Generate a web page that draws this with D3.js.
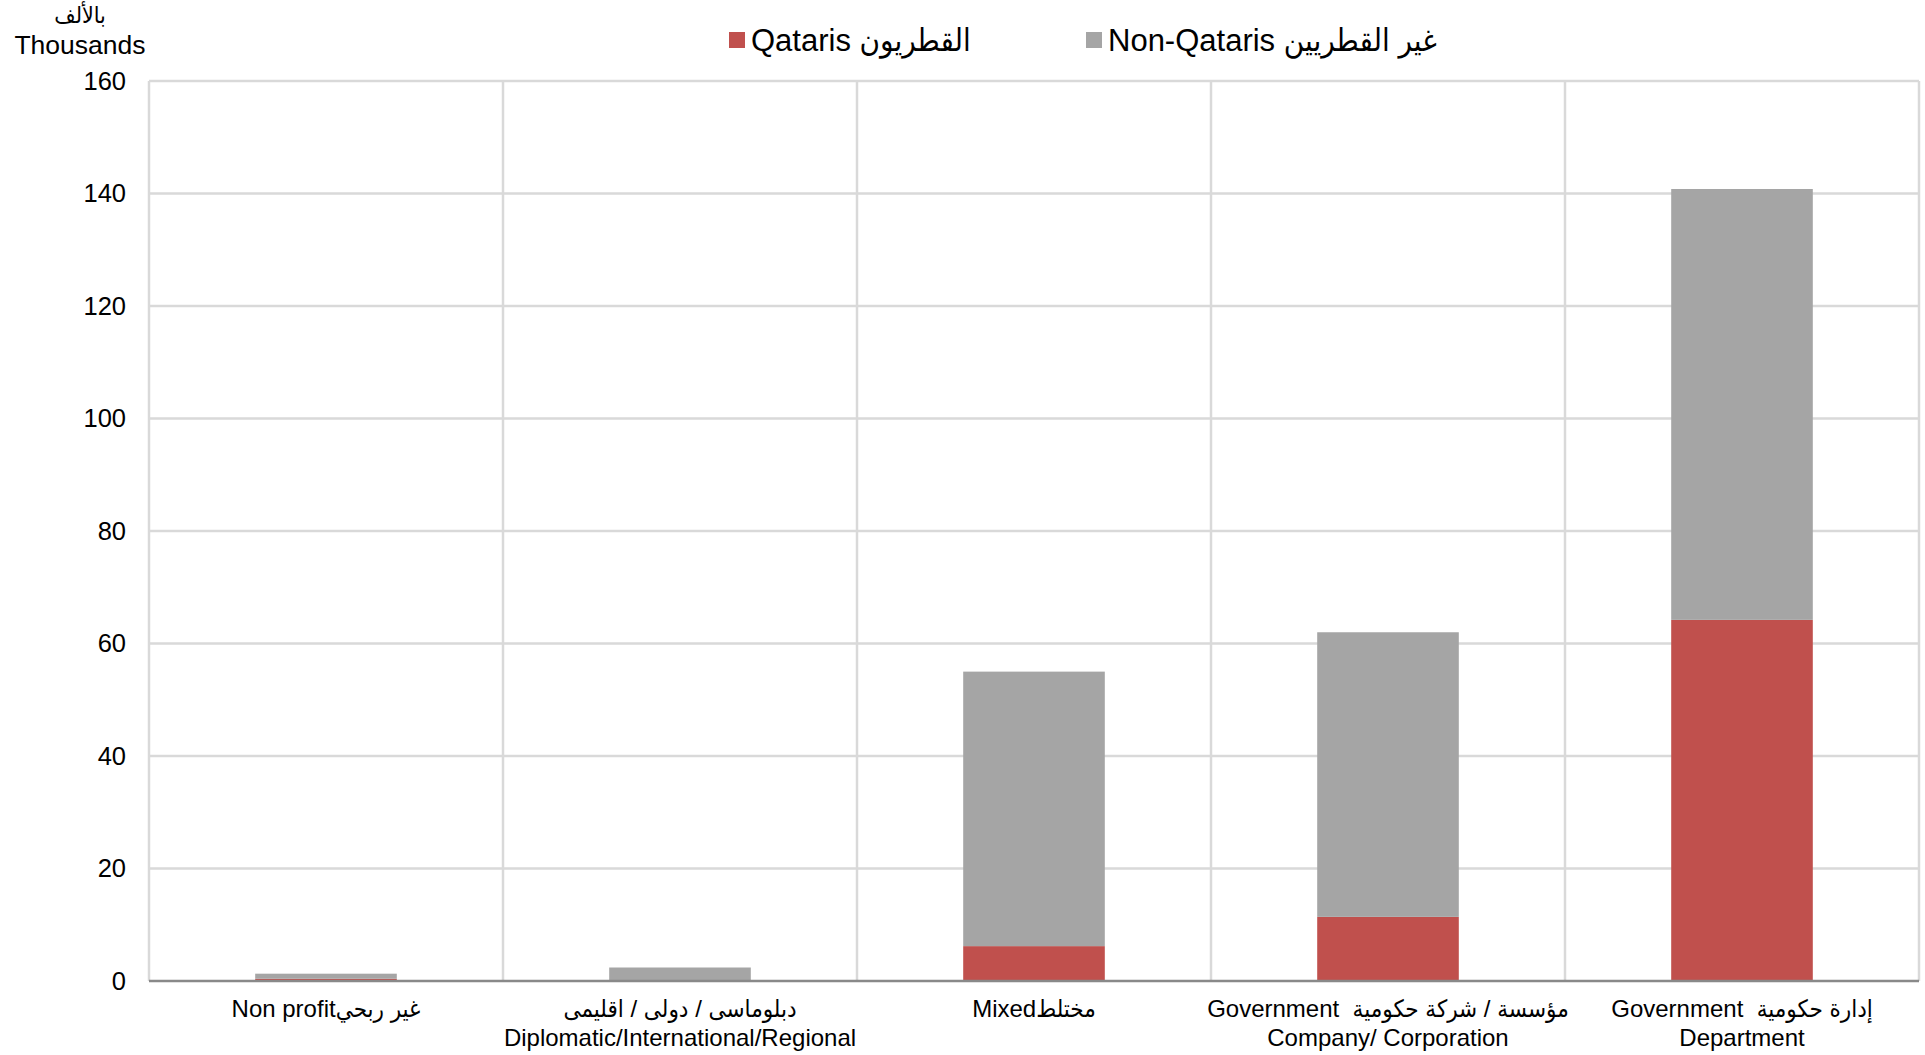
<!DOCTYPE html>
<html>
<head>
<meta charset="utf-8">
<script src="https://cdn.jsdelivr.net/npm/d3@7"></script>
<style>
  body { margin: 0; background: #fff; }
  svg { font-family: "Liberation Sans", Arial, "DejaVu Sans Condensed", "DejaVu Sans", sans-serif; }
</style>
</head>
<body>
<div id="chart"></div>
<script>
// values, in thousands
const categories = ["nonprofit", "diplomatic", "mixed", "govCompany", "govDept"]
const qataris = [0.4, 0, 6.2, 11.4, 64.2]
const nonQataris = [0.9, 2.4, 48.8, 50.6, 76.6]
const yTicks = [0, 20, 40, 60, 80, 100, 120, 140, 160]
const categoryLabels = [
  ["Non profitغير ربحي"],
  ["دبلوماسى / دولى / اقليمى", "Diplomatic/International/Regional"],
  ["Mixedمختلط"],
  ["Government  مؤسسة / شركة حكومية", "Company/ Corporation"],
  ["Government  إدارة حكومية", "Department"]
]
const seriesNames = ["Qataris القطريون", "Non-Qataris غير القطريين"]
const seriesColors = ["#C0504D", "#A5A5A5"]

const width = 1925
const height = 1055
const margin = {top: 81, right: 6, bottom: 74, left: 149}

const svg = d3.select("#chart").append("svg")
  .attr("width", width)
  .attr("height", height)

const x = d3.scaleBand()
  .domain(categories)
  .range([margin.left, width - margin.right])
  .padding(0)

const y = d3.scaleLinear()
  .domain([0, 160])
  .range([height - margin.bottom, margin.top])

// horizontal gridlines
svg.append("g").selectAll("line")
  .data(yTicks.filter(d => d > 0))
  .enter().append("line")
  .attr("x1", margin.left)
  .attr("x2", width - margin.right)
  .attr("y1", d => y(d))
  .attr("y2", d => y(d))
  .attr("stroke", "#D9D9D9")
  .attr("stroke-width", 2.5)

// vertical gridlines at category boundaries
const bounds = categories.map(c => x(c)).concat([x(categories[categories.length - 1]) + x.bandwidth()])
svg.append("g").selectAll("line")
  .data(bounds)
  .enter().append("line")
  .attr("x1", d => d)
  .attr("x2", d => d)
  .attr("y1", margin.top)
  .attr("y2", y(0))
  .attr("stroke", "#D9D9D9")
  .attr("stroke-width", 2.5)

// stacked bars
const rows = categories.map((c, i) => ({cat: c, q: qataris[i], n: nonQataris[i]}))
const stack = d3.stack().keys(["q", "n"])(rows)
const barW = x.bandwidth() * 0.4

svg.append("g").selectAll("g")
  .data(stack)
  .enter().append("g")
  .attr("fill", (d, i) => seriesColors[i])
  .selectAll("rect")
  .data(d => d)
  .enter().append("rect")
  .attr("x", d => x(d.data.cat) + (x.bandwidth() - barW) / 2)
  .attr("width", barW)
  .attr("y", d => y(d[1]))
  .attr("height", d => y(d[0]) - y(d[1]))

// baseline
svg.append("line")
  .attr("x1", margin.left)
  .attr("x2", width - margin.right)
  .attr("y1", y(0))
  .attr("y2", y(0))
  .attr("stroke", "#898989")
  .attr("stroke-width", 2.5)

// y tick labels
svg.append("g").selectAll("text")
  .data(yTicks)
  .enter().append("text")
  .attr("x", margin.left - 23)
  .attr("y", d => y(d))
  .attr("dy", "0.35em")
  .attr("text-anchor", "end")
  .attr("font-size", 25.5)
  .text(d => d)

// unit label
svg.append("text")
  .attr("x", 80).attr("y", 23)
  .attr("text-anchor", "middle")
  .attr("font-size", 23)
  .text("بالألف")
svg.append("text")
  .attr("x", 80).attr("y", 54)
  .attr("text-anchor", "middle")
  .attr("font-size", 26.5)
  .text("Thousands")

// category labels
const lab = svg.append("g").selectAll("text")
  .data(categories)
  .enter().append("text")
  .attr("text-anchor", "middle")
  .attr("font-size", 24)
  .style("white-space", "pre")
  .attr("x", d => x(d) + x.bandwidth() / 2)
  .attr("y", 1017)

lab.selectAll("tspan")
  .data((d, i) => categoryLabels[i])
  .enter().append("tspan")
  .attr("x", function() { return d3.select(this.parentNode).attr("x") })
  .attr("dy", (d, i) => i === 0 ? 0 : 29)
  .text(d => d)

// legend
const legendX = [729, 1086]
const legend = svg.append("g").selectAll("g")
  .data(seriesNames)
  .enter().append("g")
  .attr("transform", (d, i) => `translate(${legendX[i]},32)`)

legend.append("rect")
  .attr("width", 16)
  .attr("height", 16)
  .attr("fill", (d, i) => seriesColors[i])

legend.append("text")
  .attr("x", 22)
  .attr("y", 8)
  .attr("dy", "0.36em")
  .attr("font-size", 31)
  .text(d => d)
</script>
</body>
</html>
